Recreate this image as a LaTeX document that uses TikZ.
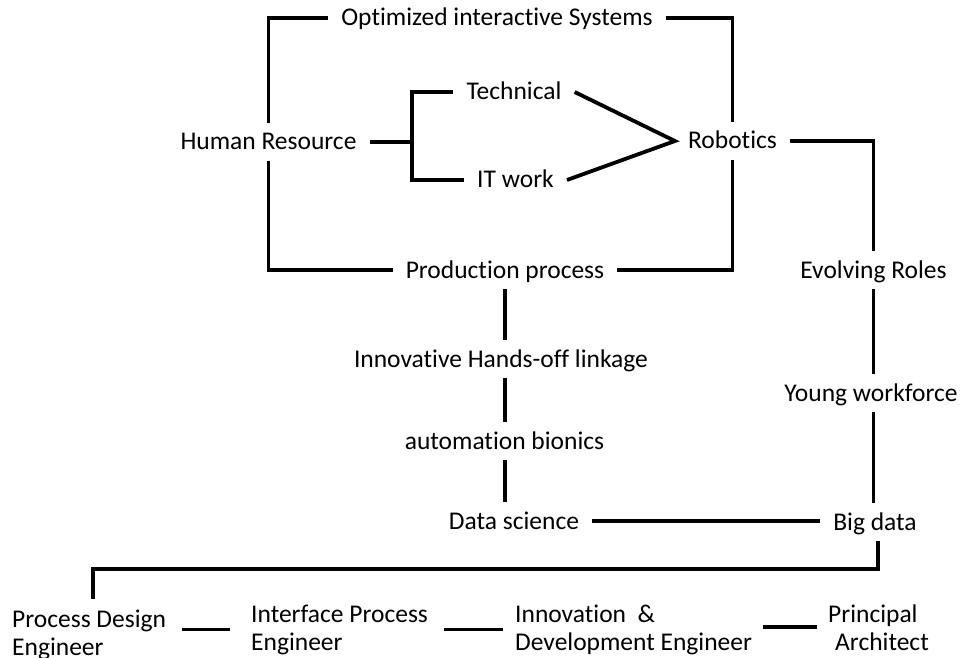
\documentclass[tikz,border=0pt]{standalone}
\usepackage{fontspec}
\setmainfont{Carlito}[Ligatures=NoCommon]
\begin{document}
\begin{tikzpicture}[x=1pt,y=-1pt,
  lbl/.style={font=\fontsize{25.5}{28}\selectfont, text height=19pt, text depth=3pt, inner xsep=13pt, inner ysep=8pt, anchor=base},
  multi/.style={font=\fontsize{25.5}{28}\selectfont, inner sep=0pt, align=left, anchor=base west},
  conn/.style={line width=3.8pt, black}]
\useasboundingbox (0,0) rectangle (962,658);
% nodes
\node[lbl] (opt) at (497,26) {Optimized interactive Systems};
\node[lbl] (hr) at (268.5,150) {Human Resource};
\node[lbl] (tech) at (514,100) {Technical};
\node[lbl] (it) at (515.5,188) {IT work};
\node[lbl] (rob) at (732.5,149) {Robotics};
\node[lbl] (pp) at (505,278) {Production process};
\node[lbl] (er) at (873.5,278) {Evolving Roles};
\node[lbl] (ih) at (501,367) {Innovative Hands-off linkage};
\node[lbl] (yw) at (871,401) {Young workforce};
\node[lbl] (ab) at (504.5,449) {automation bionics};
\node[lbl] (ds) at (514,529) {Data science};
\node[lbl] (bd) at (875,530) {Big data};
\node[multi] (pd) at (12,655) {Process Design\\Engineer};
\node[multi] (ie) at (251,650) {Interface Process\\Engineer};
\node[multi] (idv) at (515,650) {Innovation\ \ \&\\Development Engineer};
\node[multi] (pa) at (828,650) {Principal\\\hspace*{7pt}Architect};
% connectors
\draw[conn] (hr.north) |- (opt.west);
\draw[conn] (opt.east) -| (rob.north);
\draw[conn] (hr.south) |- (pp.west);
\draw[conn] (pp.east) -| (rob.south);
\draw[conn] (hr.east) -- ++(42,0) coordinate (br);
\draw[conn] (tech.west) -| (br) |- (it.west);
\draw[conn] (tech.east) -- (rob.west) -- (it.east);
\draw[conn] (rob.east) -| (er.north);
\draw[conn] (er.south) -- (er.south |- yw.north);
\draw[conn] (er.south |- yw.south) -- (er.south |- bd.north);
\draw[conn] (pp.south) -- (pp.south |- ih.north);
\draw[conn] (pp.south |- ih.south) -- (pp.south |- ab.north);
\draw[conn] (pp.south |- ab.south) -- (pp.south |- ds.north);
\draw[conn] (ds.east) -- (ds.east -| bd.west);
\draw[conn] ([xshift=3pt]bd.south) -- ++(0,28) -| ([xshift=4pt,yshift=10pt]pd.north);
\draw[conn, shorten <=16pt, shorten >=21pt] (ie.west -| pd.east) -- (ie.west);
\draw[conn, shorten <=16pt, shorten >=12pt] (idv.west -| ie.east) -- (idv.west);
\draw[conn, shorten <=11pt, shorten >=11pt] (pa.west -| idv.east) -- (pa.west);
\end{tikzpicture}
\end{document}
